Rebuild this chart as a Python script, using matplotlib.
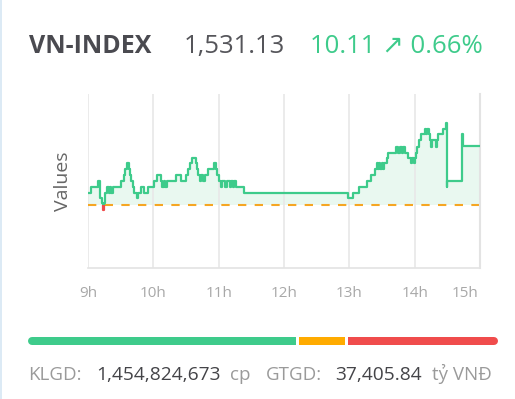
"""
Biểu đồ VN-INDEX trong phiên: đường giá theo phút, vạch tham chiếu, thanh tăng/giảm.
"""

import matplotlib
matplotlib.use("Agg")
import matplotlib.pyplot as plt
import numpy as np
from matplotlib.patches import Rectangle

# Dữ liệu (phút tính từ 9h00, giá trị chỉ số)
REF_VALUE = 1521.02
minutes = [
    0, 2.5, 9, 11, 12.5, 13.5, 14.8, 16, 17.5, 19, 20, 21.5, 22.5, 30.2, 32.7,
    34.2, 35.7, 37.2, 38.2, 39.2, 40.9, 42.4, 44.6, 45.5, 48.5, 51.6, 54.7,
    60.2, 63.2, 66.9, 68.4, 69.8, 71, 72.3, 80.6, 85.2, 89.8, 91.5, 93.5,
    95.5, 99, 100.2, 101.2, 102.6, 104, 105.5, 107, 110.6, 115.4, 117.3,
    118.8, 120.3, 122, 123.5, 126, 127.5, 130, 131.5, 133.5, 134.5, 135.6,
    143.2, 239, 243.5, 249.2, 256.2, 260.1, 263.8, 265, 266, 267.5, 268.5,
    270, 271, 272, 274.5, 275.7, 283, 285, 286.5, 288, 289.5, 291.3, 293.8,
    296.8, 298, 299, 300.5, 301.4, 302.6, 304.1, 305.7, 309.6, 310.8, 311.6,
    313.6, 314.2, 315, 315.6, 319.5, 320.3, 321.2, 325.8, 328.8, 329.5, 330,
    343.2, 343.7, 344.5, 360,
]
values = [
    1523.13, 1524.15, 1525.18, 1522.22, 1521.36, 1520.16, 1521.36, 1523.13,
    1524.15, 1523.13, 1524.15, 1523.13, 1524.15, 1525.18, 1526.16, 1527.18,
    1528.21, 1527.18, 1526.16, 1525.18, 1524.15, 1523.13, 1522.22, 1523.13,
    1524.15, 1523.13, 1524.15, 1525.18, 1526.16, 1525.18, 1524.15, 1525.18,
    1524.15, 1525.18, 1526.16, 1525.18, 1526.16, 1527.18, 1528.21, 1529.02,
    1528.21, 1527.18, 1526.16, 1525.18, 1526.16, 1525.18, 1526.16, 1527.18,
    1528.21, 1527.18, 1526.16, 1525.18, 1524.15, 1525.18, 1524.15, 1525.18,
    1524.15, 1525.18, 1524.15, 1525.18, 1524.15, 1523.13, 1522.22, 1523.13,
    1524.15, 1525.18, 1526.16, 1527.18, 1528.21, 1527.18, 1528.21, 1527.18,
    1528.21, 1527.18, 1528.21, 1529.02, 1529.98, 1531.0, 1529.98, 1531.0,
    1529.98, 1531.0, 1529.98, 1529.02, 1528.21, 1529.02, 1528.21, 1529.02,
    1529.98, 1531.0, 1532.15, 1533.13, 1533.98, 1533.13, 1533.98, 1533.13,
    1532.15, 1531.0, 1532.15, 1531.0, 1532.15, 1533.13, 1533.98, 1535.11,
    1524.15, 1525.18, 1529.3, 1533.13, 1531.13, 1531.13,
]
hour_ticks = [0, 60, 120, 180, 240, 300]
hour_labels = ["9h", "10h", "11h", "12h", "13h", "14h"]
last_label = "15h"

index_name = "VN-INDEX"
index_value = "1,531.13"
index_change = "10.11 \u2197 0.66%"

# Tỷ lệ thanh tăng / đứng giá / giảm (đọc từ độ dài)
breadth = [267, 46, 150]
breadth_colors = ["#3ecb8b", "#ffab00", "#f04c4c"]

klgd = "1,454,824,673"
gtgd = "37,405.84"

GREEN = "#3ecb8b"
RED = "#ef4b4b"
W, H = 515, 399

plt.rcParams["font.family"] = ["Open Sans", "DejaVu Sans"]

fig = plt.figure(figsize=(W / 100, H / 100), dpi=100)
fig.patch.set_facecolor("white")


def fx(px):
    return px / W


def fy(py):
    return 1 - py / H


# Viền trái mờ
fig.add_artist(plt.Line2D([fx(0.8), fx(0.8)], [0, 1], color="#d6e6f3", lw=1.2))

# Tiêu đề
fig.text(fx(29), fy(53), index_name, fontsize=18, fontweight="bold",
         color="#4a4a50", va="baseline")
fig.text(fx(184), fy(53), index_value, fontsize=18.5, color="#55555a", va="baseline")
fig.text(fx(310), fy(53), index_change, fontsize=18.5, color=GREEN, va="baseline")

# Biểu đồ chính
ax = fig.add_axes([fx(88), fy(268), fx(480 - 88), (268 - 94) / H])
t = np.array(minutes)
v = np.array(values)
ax.set_xlim(0, 360)
ax.set_ylim(1510.2, 1540.0)

ax.fill_between(t, v, REF_VALUE, step="post", color="#e9f8f0", lw=0, zorder=1)
above = Rectangle((0, REF_VALUE), 360, 40, transform=ax.transData)
below = Rectangle((0, 1500), 360, REF_VALUE - 1500, transform=ax.transData)
line_up, = ax.plot(t, v, drawstyle="steps-post", color=GREEN, lw=1.6, zorder=3)
line_up.set_clip_path(above)
line_dn, = ax.plot(t, v, drawstyle="steps-post", color=RED, lw=1.6, zorder=3)
line_dn.set_clip_path(below)

ax.axhline(REF_VALUE, color="#f5a623", lw=1.5, dashes=(4, 4), zorder=2)

for s in ["top", "left"]:
    ax.spines[s].set_visible(False)
ax.spines["bottom"].set_color("#e3e3e3")
ax.spines["bottom"].set_linewidth(1.2)
ax.spines["right"].set_color("#e3e3e3")
ax.spines["right"].set_linewidth(1.5)

ax.set_xticks(hour_ticks, labels=hour_labels)
ax.set_xticks([346], labels=[last_label], minor=True)
ax.grid(axis="x", which="major", color="#e8e8e8", lw=1.2, zorder=0)
ax.tick_params(axis="x", which="both", length=0, pad=13, labelsize=11,
               labelcolor="#a8a8a8")
ax.set_yticks([])

fig.text(fx(63), fy(181), "Values", rotation=90, fontsize=14, color="#666666",
         ha="center", va="center")

# Thanh độ rộng thị trường
bar_y, bar_h = 340.5, 8
bar_lw = bar_h * 0.72
x0, x1, gap = 28, 498, 3
total = sum(breadth)
span = x1 - x0 - gap * (len(breadth) - 1)
cur = x0
r = bar_h / 2
for i, (n, c) in enumerate(zip(breadth, breadth_colors)):
    w = span * n / total
    if i == 0:
        fig.add_artist(plt.Line2D([fx(cur + r), fx(cur + w - r)], [fy(bar_y)] * 2,
                                  color=c, lw=bar_lw, solid_capstyle="round"))
        fig.add_artist(plt.Line2D([fx(cur + w / 2), fx(cur + w)], [fy(bar_y)] * 2,
                                  color=c, lw=bar_lw, solid_capstyle="butt"))
    elif i == len(breadth) - 1:
        fig.add_artist(plt.Line2D([fx(cur + r), fx(cur + w - r)], [fy(bar_y)] * 2,
                                  color=c, lw=bar_lw, solid_capstyle="round"))
        fig.add_artist(plt.Line2D([fx(cur), fx(cur + w / 2)], [fy(bar_y)] * 2,
                                  color=c, lw=bar_lw, solid_capstyle="butt"))
    else:
        fig.add_artist(plt.Line2D([fx(cur), fx(cur + w)], [fy(bar_y)] * 2,
                                  color=c, lw=bar_lw, solid_capstyle="butt"))
    cur += w + gap

# Dòng thống kê
base_y = fy(380)
fig.text(fx(28), base_y, "KLGD:", fontsize=13.5, color="#9a9a9a", va="baseline")
fig.text(fx(96), base_y, klgd, fontsize=13.8, color="#444448", va="baseline")
fig.text(fx(230), base_y, "cp", fontsize=13.5, color="#9a9a9a", va="baseline")
fig.text(fx(266), base_y, "GTGD:", fontsize=13.5, color="#9a9a9a", va="baseline")
fig.text(fx(335), base_y, gtgd, fontsize=13.8, color="#444448", va="baseline")
fig.text(fx(432), base_y, "tỷ VNĐ", fontsize=13.5, color="#9a9a9a", va="baseline")

fig.savefig("out.png", dpi=100)
plt.close(fig)
